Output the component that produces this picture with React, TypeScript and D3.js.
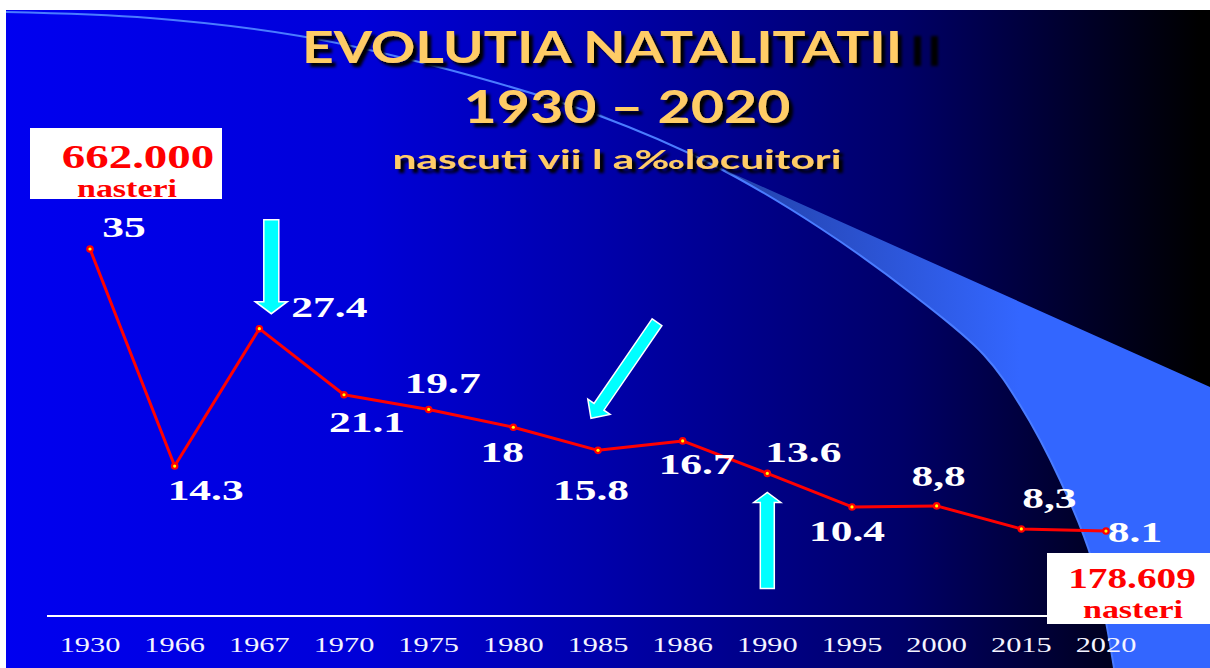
import React from "react";
import * as d3 from "d3";

// ---- data ----
const years = ["1930", "1966", "1967", "1970", "1975", "1980", "1985", "1986", "1990", "1995", "2000", "2015", "2020"];
const rates = [35, 14.3, 27.4, 21.1, 19.7, 18, 15.8, 16.7, 13.6, 10.4, 10.5, 8.3, 8.1];
const rateLabels = ["35", "14.3", "27.4", "21.1", "19.7", "18", "15.8", "16.7", "13.6", "10.4", "8,8", "8,3", "8.1"];
const titleLines = ["EVOLUTIA NATALITATII", "1930 \u2013 2020", "nascuti vii l a\u2030locuitori"];
const startBox = ["662.000", "nasteri"];
const endBox = ["178.609", "nasteri"];

// ---- layout (offsets of value labels from their points: centre dx, baseline dy) ----
const labelOffsets: [number, number][] = [
  [34, -12], [31, 34], [70, -12], [23, 37], [14, -16], [-11, 35], [-7, 50],
  [14, 33], [36, -11], [-5, 34], [2, -20], [28, -21], [29, 11],
];
// arrows: point index, tip offset, tail offset (relative to tip), shaft width, head width, head length
const arrows = [
  { i: 2, tip: [12, -15], tail: [0, -94], sw: 15, hw: 32, hl: 12 },
  { i: 6, tip: [-7, -32], tail: [66, -96], sw: 12, hw: 27, hl: 14 },
  { i: 8, tip: [0, 19], tail: [0, 96], sw: 14, hw: 27, hl: 10 },
];

const W = 1210;
const H = 668;

function arrowPath(tx: number, ty: number, ax: number, ay: number, sw: number, hw: number, hl: number) {
  const dx = tx - ax, dy = ty - ay;
  const len = Math.hypot(dx, dy);
  const ux = dx / len, uy = dy / len;
  const nx = -uy, ny = ux;
  const bx = tx - ux * hl, by = ty - uy * hl;
  const p = (x: number, y: number) => `${x.toFixed(1)},${y.toFixed(1)}`;
  return (
    "M" + p(ax + nx * sw / 2, ay + ny * sw / 2) +
    "L" + p(bx + nx * sw / 2, by + ny * sw / 2) +
    "L" + p(bx + nx * hw / 2, by + ny * hw / 2) +
    "L" + p(tx, ty) +
    "L" + p(bx - nx * hw / 2, by - ny * hw / 2) +
    "L" + p(bx - nx * sw / 2, by - ny * sw / 2) +
    "L" + p(ax - nx * sw / 2, ay - ny * sw / 2) + "Z"
  );
}

export default function App() {
  const x = d3.scalePoint<string>().domain(years).range([90, 1106]);
  const y = d3.scaleLinear().domain([0, 35]).range([616, 249]);

  const pts = years.map((yr, i) => [x(yr) as number, y(rates[i])] as [number, number]);
  const line = d3.line<[number, number]>()(pts) || "";

  // decorative swoosh
  const swoosh: [number, number][] = [
    [6, 12], [150, 18], [300, 36], [450, 70], [600, 116], [713, 165], [820, 228],
    [916, 297], [984, 355], [1020, 405], [1060, 480], [1092, 560], [1114, 668],
  ];
  const curveGen = d3.line<[number, number]>().curve(d3.curveCatmullRom.alpha(0.5));
  const swooshPath = curveGen(swoosh) || "";
  const wedgePts = swoosh.slice(4);
  const wedgePath =
    (curveGen(wedgePts) || "") + ` L1210,668 L1210,387 L${wedgePts[0][0]},${wedgePts[0][1] - 2} Z`;

  const serif = "'Liberation Serif', 'Times New Roman', serif";
  const sans = "Lato, 'Open Sans', sans-serif";

  return (
    <svg
      width={W}
      height={H}
      style={{ position: "absolute", left: 0, top: 0, display: "block" }}
    >
      <defs>
        <linearGradient id="bg" gradientUnits="userSpaceOnUse" x1={6} y1={0} x2={1200} y2={0}>
          <stop offset="0" stopColor="#0000F0" />
          <stop offset="0.3" stopColor="#0000D8" />
          <stop offset="0.5" stopColor="#0000AA" />
          <stop offset="0.75" stopColor="#000068" />
          <stop offset="0.88" stopColor="#000032" />
          <stop offset="1" stopColor="#000000" />
        </linearGradient>
        <linearGradient id="wedge" gradientUnits="userSpaceOnUse" x1={680} y1={0} x2={1020} y2={0}>
          <stop offset="0" stopColor="#1F3C9E" />
          <stop offset="0.5" stopColor="#2A50CC" />
          <stop offset="1" stopColor="#3366FF" />
        </linearGradient>
        <filter id="drop" x="-10%" y="-30%" width="130%" height="170%">
          <feDropShadow dx="4" dy="4" stdDeviation="1.6" floodColor="#000000" floodOpacity="1" />
        </filter>
        <filter id="blur" x="-50%" y="-20%" width="200%" height="140%">
          <feGaussianBlur stdDeviation="1.6" />
        </filter>
      </defs>

      <rect x={0} y={0} width={W} height={H} fill="#ffffff" />
      <rect x={6} y={10} width={W - 6} height={H - 10} fill="url(#bg)" />
      <path d={wedgePath} fill="url(#wedge)" />
      <path d={swooshPath} fill="none" stroke="#4A7CFF" strokeWidth={2} />

      {/* stray shadow bars after the title */}
      <g fill="#000000" filter="url(#blur)">
        <rect x={914} y={36} width={7} height={30} />
        <rect x={931} y={36} width={7} height={30} />
      </g>

      {/* titles */}
      <g fontFamily={sans} fontWeight={700} fill="#FFCC66" filter="url(#drop)">
        {[
          { t: titleLines[0], cx: 602, by: 63, fs: 43, len: 600 },
          { t: titleLines[1], cx: 627, by: 123, fs: 45, len: 327 },
          { t: titleLines[2], cx: 617, by: 169, fs: 27, len: 449 },
        ].map((d, i) => (
          <text
            key={i}
            x={d.cx - d.len / 2}
            y={d.by}
            fontSize={d.fs}
            textLength={d.len}
            lengthAdjust="spacingAndGlyphs"
          >
            {d.t}
          </text>
        ))}
      </g>

      {/* axis line */}
      <line x1={47} x2={1100} y1={y(0)} y2={y(0)} stroke="#ffffff" strokeWidth={2} />

      {/* axis labels */}
      <g fontFamily={serif} fontSize={22} fill="#F4F4FF">
        {years.map((yr) => (
          <text key={yr} transform={`translate(${x(yr)},652) scale(1.38,1)`} textAnchor="middle">
            {yr}
          </text>
        ))}
      </g>

      {/* arrows */}
      {arrows.map((a, k) => {
        const [px, py] = pts[a.i];
        const tx = px + a.tip[0], ty = py + a.tip[1];
        const ax = tx + a.tail[0], ay = ty + a.tail[1];
        return (
          <path
            key={k}
            d={arrowPath(tx, ty, ax, ay, a.sw, a.hw, a.hl)}
            fill="#00FFFF"
            stroke="#ffffff"
            strokeWidth={1.5}
            strokeLinejoin="miter"
          />
        );
      })}

      {/* data line */}
      <path d={line} fill="none" stroke="#FF0000" strokeWidth={3} strokeLinejoin="round" />
      {pts.map(([px, py], i) => (
        <g key={i}>
          <circle cx={px} cy={py} r={3.8} fill="#FF0000" />
          <circle cx={px} cy={py} r={1.6} fill="#FFFF00" />
        </g>
      ))}

      {/* value labels */}
      <g fontFamily={serif} fontWeight={700} fontSize={29} fill="#ffffff">
        {rateLabels.map((t, i) => (
          <text
            key={i}
            transform={`translate(${pts[i][0] + labelOffsets[i][0]},${pts[i][1] + labelOffsets[i][1]}) scale(1.5,1)`}
            textAnchor="middle"
          >
            {t}
          </text>
        ))}
      </g>

      {/* start box */}
      <rect x={30} y={128} width={192} height={71} fill="#ffffff" />
      <g fontFamily={serif} fontWeight={700} fill="#FF0000">
        <text transform="translate(138,167.5) scale(1.38,1)" textAnchor="middle" fontSize={34}>
          {startBox[0]}
        </text>
        <text transform="translate(127,197) scale(1.36,1)" textAnchor="middle" fontSize={25}>
          {startBox[1]}
        </text>
      </g>

      {/* end box */}
      <rect x={1047} y={553} width={163} height={71} fill="#ffffff" />
      <g fontFamily={serif} fontWeight={700} fill="#FF0000">
        <text transform="translate(1132,587.5) scale(1.355,1)" textAnchor="middle" fontSize={29}>
          {endBox[0]}
        </text>
        <text transform="translate(1133,617.5) scale(1.36,1)" textAnchor="middle" fontSize={25}>
          {endBox[1]}
        </text>
      </g>
    </svg>
  );
}
